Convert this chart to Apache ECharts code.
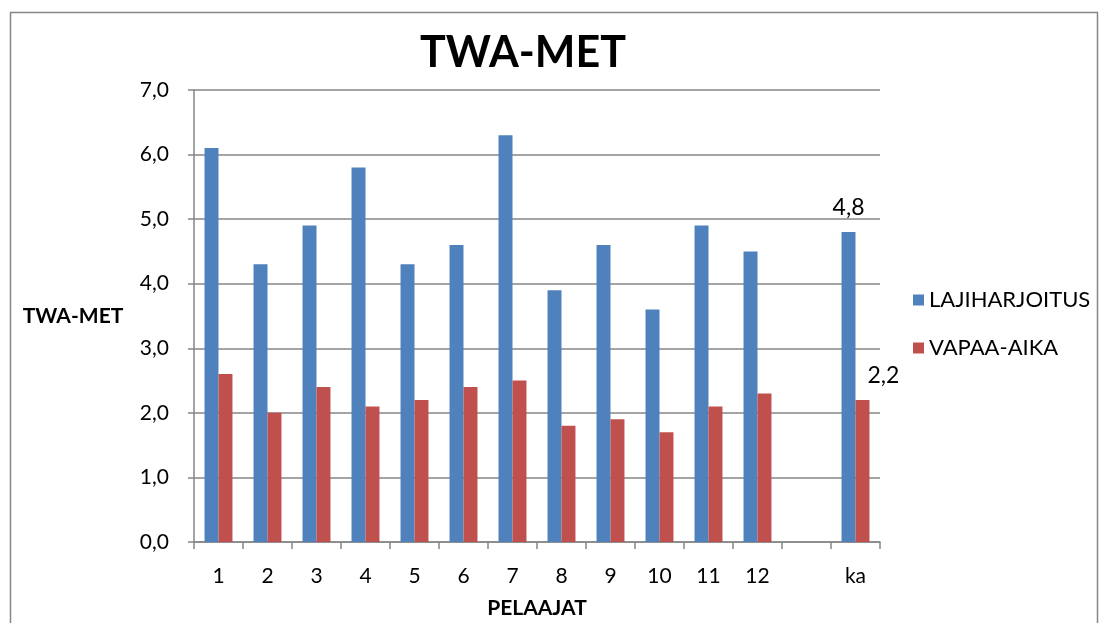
<!DOCTYPE html>
<html>
<head>
<meta charset="utf-8">
<script src="https://cdn.jsdelivr.net/npm/echarts@6/dist/echarts.min.js"></script>
<style>
  html, body { margin: 0; padding: 0; background: #fff; }
  #chart { width: 1109px; height: 623px; }
</style>
</head>
<body>
<div id="chart"></div>
<script>
// players 1..12, an empty slot, then the average (ka)
const categories = ['1', '2', '3', '4', '5', '6', '7', '8', '9', '10', '11', '12', '', 'ka'];
const lajiharjoitus = [6.1, 4.3, 4.9, 5.8, 4.3, 4.6, 6.3, 3.9, 4.6, 3.6, 4.9, 4.5, null, 4.8];
const vapaaAika = [2.6, 2.0, 2.4, 2.1, 2.2, 2.4, 2.5, 1.8, 1.9, 1.7, 2.1, 2.3, null, 2.2];
const yTicks = [0, 1, 2, 3, 4, 5, 6, 7];

const fontFamily = 'Lato, "Open Sans", sans-serif';
const gray = '#868686';

function fmt(v) {
    return v.toFixed(1).replace('.', ',');
}

// only the average bar carries a value label
function avgLabel(offset) {
    return {
        show: true,
        position: 'top',
        distance: 13,
        offset: offset,
        fontFamily: fontFamily,
        fontSize: 23,
        color: '#000',
        formatter: p => p.dataIndex === categories.length - 1 ? fmt(p.value) : ''
    };
}

const chart = echarts.init(document.getElementById('chart'));

chart.setOption({
    animation: false,
    backgroundColor: '#fff',
    title: {
        text: 'TWA-MET',
        left: 518,
        top: 27,
        textAlign: 'center',
        textStyle: {fontFamily: fontFamily, fontSize: 43, fontWeight: 'bold', color: '#000'}
    },
    graphic: [{
        type: 'rect',
        shape: {x: 10.5, y: 12.5, width: 1087, height: 640},
        style: {fill: null, stroke: gray, lineWidth: 1.5},
        silent: true,
        z: -1
    }],
    legend: {
        orient: 'vertical',
        left: 908,
        top: 284,
        itemWidth: 11,
        itemHeight: 11,
        itemGap: 26,
        icon: 'rect',
        textStyle: {fontFamily: fontFamily, fontSize: 22, color: '#000'},
        data: ['LAJIHARJOITUS', 'VAPAA-AIKA']
    },
    grid: {left: 194, right: 229, top: 90, bottom: 81, outerBoundsMode: 'none'},
    xAxis: {
        type: 'category',
        data: categories,
        name: 'PELAAJAT',
        nameLocation: 'middle',
        nameGap: 56,
        nameMoveOverlap: false,
        nameTextStyle: {fontFamily: fontFamily, fontSize: 21, fontWeight: 'bold', color: '#000'},
        axisLine: {lineStyle: {color: gray, width: 1.5}},
        axisTick: {show: true, length: 7, lineStyle: {color: gray, width: 1.5}},
        axisLabel: {margin: 24, fontFamily: fontFamily, fontSize: 21, color: '#000'}
    },
    yAxis: {
        type: 'value',
        min: yTicks[0],
        max: yTicks[yTicks.length - 1],
        interval: 1,
        name: 'TWA-MET',
        nameLocation: 'middle',
        nameGap: 121,
        nameRotate: 0,
        nameMoveOverlap: false,
        nameTextStyle: {fontFamily: fontFamily, fontSize: 21, fontWeight: 'bold', color: '#000', align: 'center', verticalAlign: 'middle'},
        axisLine: {show: true, lineStyle: {color: gray, width: 1.5}},
        axisTick: {show: true, length: 6, lineStyle: {color: gray, width: 1.5}},
        axisLabel: {margin: 25, fontFamily: fontFamily, fontSize: 21, color: '#000', formatter: fmt},
        splitLine: {lineStyle: {color: gray, width: 1.5}}
    },
    series: [{
        name: 'LAJIHARJOITUS',
        type: 'bar',
        data: lajiharjoitus,
        barGap: '0%',
        barCategoryGap: '43%',
        itemStyle: {color: '#4F81BD'},
        label: avgLabel([0, 0])
    }, {
        name: 'VAPAA-AIKA',
        type: 'bar',
        data: vapaaAika,
        barGap: '0%',
        barCategoryGap: '43%',
        itemStyle: {color: '#C0504D'},
        label: avgLabel([21, 0])
    }]
});
</script>
</body>
</html>
